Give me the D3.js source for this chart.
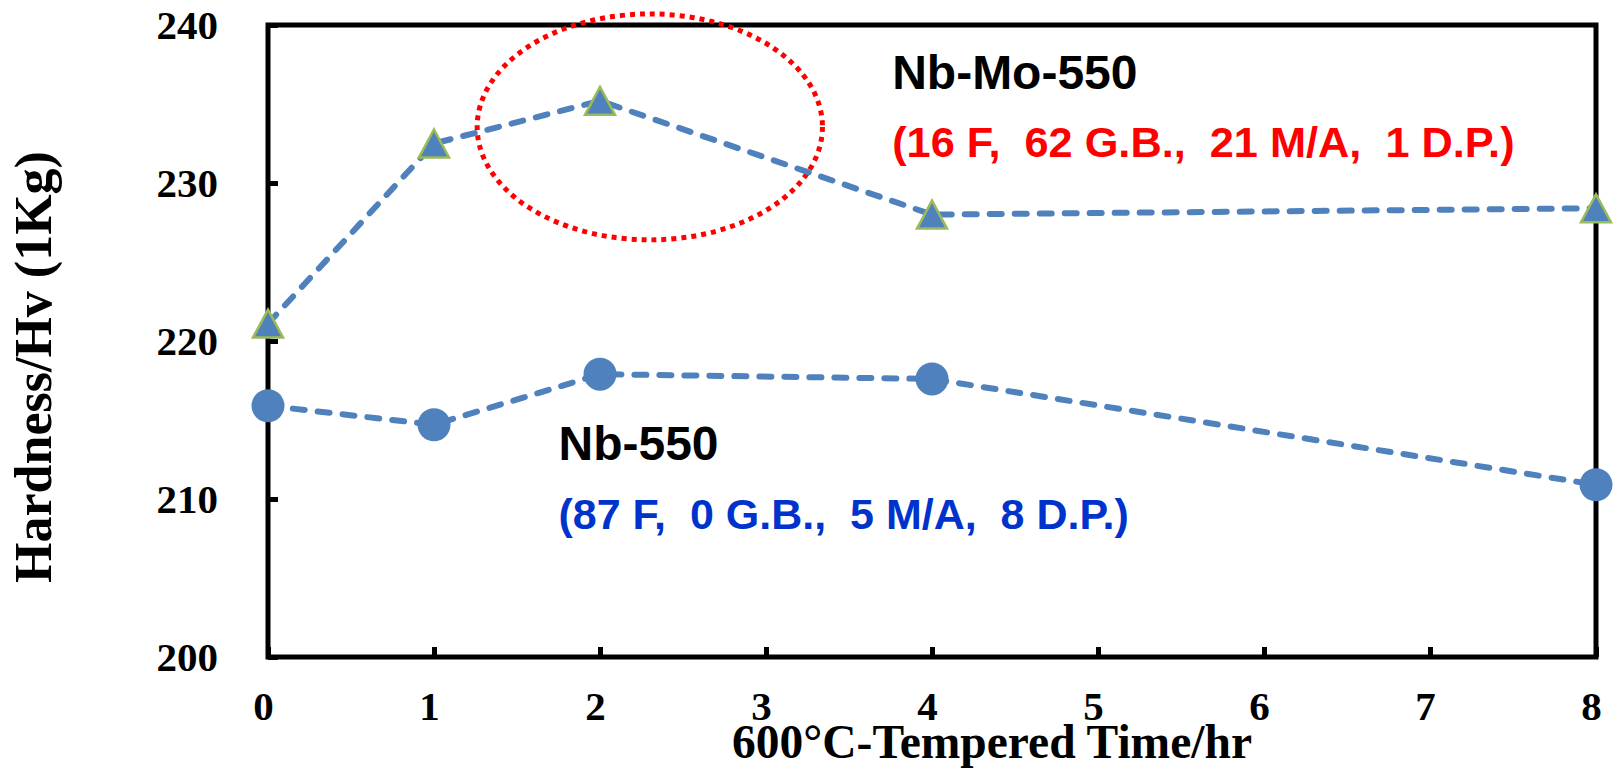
<!DOCTYPE html>
<meta charset="utf-8">
<script src="https://d3js.org/d3.v7.min.js"></script>
<style>
  body { margin: 0; background: #fff; }
  text { font-family: "Liberation Serif", "Times New Roman", serif; font-weight: bold; }
  .note { font-family: "Liberation Sans", Arial, sans-serif; font-weight: bold; white-space: pre; }
</style>
<div id="chart"></div>
<script>
  // data
  var times = [0, 1, 2, 4, 8];
  var nbMo550 = [221.1, 232.5, 235.2, 228.0, 228.4];
  var nb550 = [215.9, 214.7, 217.9, 217.6, 210.9];
  var xTicks = [0, 1, 2, 3, 4, 5, 6, 7, 8];
  var yTicks = [200, 210, 220, 230, 240];

  var margin = {top: 25, right: 20, bottom: 111, left: 268},
      width = 1616 - margin.left - margin.right,
      height = 768 - margin.top - margin.bottom;

  var svg = d3.select("#chart")
    .append("svg")
      .attr("width", 1616)
      .attr("height", 768)
    .append("g")
      .attr("transform", "translate(" + margin.left + "," + margin.top + ")");

  var x = d3.scaleLinear().domain([0, 8]).range([0, 1328]);
  var y = d3.scaleLinear().domain([200, 240]).range([height, 0]);

  // y axis (ticks inward)
  var yAxis = svg.append("g")
    .call(d3.axisLeft(y).tickValues(yTicks).tickSize(-10).tickPadding(50));
  yAxis.select(".domain").remove();
  yAxis.selectAll("line").attr("stroke", "#000").attr("stroke-width", 5);
  yAxis.selectAll("text").attr("font-size", 41).attr("fill", "#000")
    .attr("font-family", "Liberation Serif").attr("font-weight", "bold");

  // x axis (ticks inward)
  var xAxis = svg.append("g")
    .attr("transform", "translate(0," + height + ")")
    .call(d3.axisBottom(x).tickValues(xTicks).tickSize(-10).tickPadding(0));
  xAxis.select(".domain").remove();
  xAxis.selectAll("line").attr("stroke", "#000").attr("stroke-width", 5);
  xAxis.selectAll("text").attr("font-size", 41).attr("fill", "#000")
    .attr("font-family", "Liberation Serif").attr("font-weight", "bold")
    .attr("dy", null).attr("y", 63).attr("x", -5);

  // frame
  svg.append("rect")
    .attr("x", x(0)).attr("y", y(240))
    .attr("width", x(8) - x(0)).attr("height", y(200) - y(240))
    .attr("fill", "none").attr("stroke", "#000").attr("stroke-width", 5);

  // red dotted ellipse
  svg.append("ellipse")
    .attr("cx", x(2.3)).attr("cy", y(233.55))
    .attr("rx", x(1.04) - x(0)).attr("ry", y(240) - y(247.15))
    .attr("fill", "none").attr("stroke", "#ff0000")
    .attr("stroke-width", 5).attr("stroke-dasharray", "5,5");

  var line = d3.line()
    .x(function(d) { return x(d[0]); })
    .y(function(d) { return y(d[1]); });

  var blue = "#4f81bd";

  [nbMo550, nb550].forEach(function(vals) {
    svg.append("path")
      .datum(times.map(function(t, i) { return [t, vals[i]]; }))
      .attr("d", line)
      .attr("fill", "none").attr("stroke", blue)
      .attr("stroke-width", 6)
      .attr("stroke-dasharray", "12,13")
      .attr("stroke-linecap", "round");
  });

  // circles
  svg.selectAll("circle.nb")
    .data(times)
    .enter().append("circle")
      .attr("class", "nb")
      .attr("cx", function(d) { return x(d); })
      .attr("cy", function(d, i) { return y(nb550[i]); })
      .attr("r", 16.5)
      .attr("fill", blue);

  // triangles
  svg.selectAll("path.tri")
    .data(times)
    .enter().append("path")
      .attr("class", "tri")
      .attr("d", "M0,-14L15,14L-15,14Z")
      .attr("transform", function(d, i) { return "translate(" + x(d) + "," + y(nbMo550[i]) + ")"; })
      .attr("fill", blue)
      .attr("stroke", "#9bbb59")
      .attr("stroke-width", 2.5);

  // annotations
  svg.append("text").attr("class", "note")
    .attr("x", x(3.76)).attr("y", y(235.97))
    .attr("font-size", 48).attr("fill", "#000")
    .text("Nb-Mo-550");
  svg.append("text").attr("class", "note")
    .attr("x", x(3.76)).attr("y", y(231.65))
    .attr("font-size", 43.3).attr("fill", "#ff0000")
    .text("(16 F,  62 G.B.,  21 M/A,  1 D.P.)");
  svg.append("text").attr("class", "note")
    .attr("x", x(1.75)).attr("y", y(212.5))
    .attr("font-size", 48).attr("fill", "#000")
    .text("Nb-550");
  svg.append("text").attr("class", "note")
    .attr("x", x(1.75)).attr("y", y(208.1))
    .attr("font-size", 43).attr("fill", "#0033cc")
    .text("(87 F,  0 G.B.,  5 M/A,  8 D.P.)");

  // axis titles
  svg.append("text")
    .attr("x", 992 - margin.left).attr("y", 758 - margin.top)
    .attr("text-anchor", "middle")
    .attr("font-size", 47.5)
    .text("600°C-Tempered Time/hr");

  svg.append("text")
    .attr("transform", "translate(" + (51 - margin.left) + "," + (367 - margin.top) + ") rotate(-90)")
    .attr("text-anchor", "middle")
    .attr("font-size", 52)
    .text("Hardness/Hv (1Kg)");
</script>
